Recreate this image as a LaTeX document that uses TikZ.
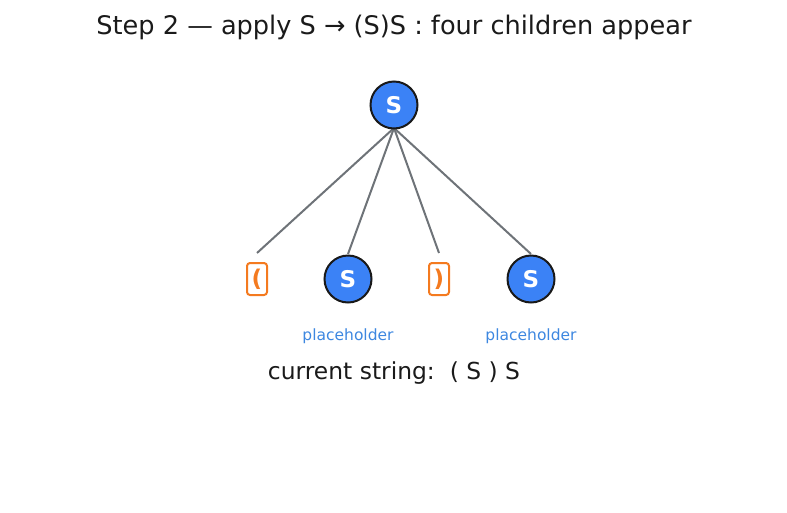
\documentclass[tikz,border=0pt]{standalone}
\usepackage{fontspec}
\setmainfont{DejaVu Sans}
\definecolor{nodeblue}{HTML}{3B82F6}
\definecolor{edgegray}{HTML}{6E7378}
\definecolor{parorange}{HTML}{F47A1F}
\definecolor{phblue}{HTML}{3D87E0}
\definecolor{txt}{HTML}{1A1A1A}
\begin{document}
\begin{tikzpicture}[x=1pt,y=-1pt,
  snode/.style={circle,draw=black!90,line width=2pt,fill=nodeblue,minimum size=47pt,inner sep=0pt,text=white,font=\fontsize{23}{23}\selectfont\bfseries},
  pnode/.style={rectangle,rounded corners=3pt,draw=parorange,line width=2pt,fill=white,minimum width=20pt,minimum height=32pt,inner sep=0pt,text=parorange,font=\fontsize{23}{23}\selectfont\bfseries},
  edge/.style={draw=edgegray,line width=2pt},
  phlabel/.style={text=phblue,font=\fontsize{15.5}{15.5}\selectfont},
]
\useasboundingbox (0,0) rectangle (787,512);
\node[text=txt,font=\fontsize{25.6}{26}\selectfont] (title) at (394,27) {Step 2 — apply S → (S)S : four children appear};
\coordinate (top) at (394,128);
\coordinate (e1) at (257,253);
\coordinate (e2) at (348,254);
\coordinate (e3) at (439,253);
\coordinate (e4) at (531,254);
\draw[edge] (top) -- (e1);
\draw[edge] (top) -- (e2);
\draw[edge] (top) -- (e3);
\draw[edge] (top) -- (e4);
\node[snode] (root) at (394,105) {S};
\node[pnode] (lp) at (257,279) {(};
\node[snode] (s1) at (348,279) {S};
\node[pnode] (rp) at (439,279) {)};
\node[snode] (s2) at (531,279) {S};
\node[phlabel] (ph1) at (348,336) {placeholder};
\node[phlabel] (ph2) at (531,336) {placeholder};
\node[text=txt,font=\fontsize{23.4}{24}\selectfont] (cur) at (394,373) {current string:\ \ ( S ) S};
\end{tikzpicture}
\end{document}
